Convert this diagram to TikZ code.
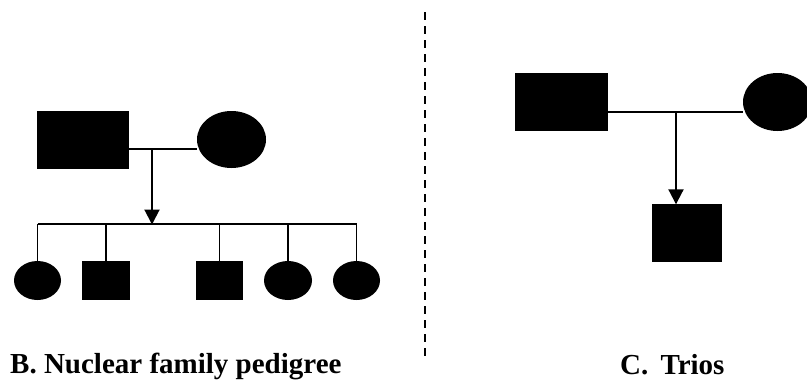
\documentclass[tikz,border=0pt]{standalone}
\usepackage{fontspec}
\setmainfont{Liberation Serif}
\usetikzlibrary{shapes.geometric,arrows.meta}

\tikzset{
  male/.style={rectangle, fill=black, draw=none, inner sep=0pt},
  female/.style={ellipse, fill=black, draw=none, inner sep=0pt},
  link/.style={line width=1.6pt},
  descent/.style={line width=2pt, -{Triangle[length=15pt,width=15pt]}, shorten >=-0.5pt},
  divider/.style={line width=1.6pt, dash pattern=on 7.5pt off 6.5pt},
  caption/.style={inner sep=0pt, font=\bfseries\fontsize{29pt}{32pt}\selectfont}
}

\begin{document}
\begin{tikzpicture}[x=1pt,y=-1pt]
  \useasboundingbox (0,0) rectangle (807,380);

  % --- nuclear family ---
  \node[male, minimum width=92pt, minimum height=58pt] (f1) at (83,140) {};
  \node[female, minimum width=69pt, minimum height=57pt] (m1) at (231.5,139.5) {};
  \coordinate (u1) at (152,149);
  \coordinate (s1) at (152,224);

  \node[female, minimum width=47pt, minimum height=39pt] (c1) at (37.5,280.5) {};
  \node[male,   minimum width=48pt, minimum height=39pt] (c2) at (106,280.5) {};
  \node[male,   minimum width=47pt, minimum height=39pt] (c3) at (219.5,280.5) {};
  \node[female, minimum width=48pt, minimum height=39pt] (c4) at (288,280.5) {};
  \node[female, minimum width=47pt, minimum height=39pt] (c5) at (356.5,280.5) {};

  \draw[link] (f1.east |- u1) -- (m1.west |- u1);
  \draw[descent] (u1) -- (s1);
  \draw[link] (c1 |- s1) -- (c5 |- s1);
  \foreach \c in {c1,c2,c3,c4,c5}
    \draw[link] (\c |- s1) -- (\c.north);

  % --- separator ---
  \coordinate (d1) at (425,12);
  \coordinate (d2) at (425,357);
  \draw[divider] (d1) -- (d2);

  % --- trio ---
  \node[male, minimum width=93pt, minimum height=58pt] (f2) at (561.5,102) {};
  \node[female, minimum width=69pt, minimum height=58pt] (m2) at (777.5,102) {};
  \node[male, minimum width=70pt, minimum height=58pt] (k2) at (687,233) {};
  \coordinate (u2) at (676,112);

  \draw[link] (f2.east |- u2) -- (m2.west |- u2);
  \draw[descent] (u2) -- (u2 |- k2.north);

  % --- captions ---
  \node[caption, anchor=base west] (capB) at (10,373) {B. Nuclear family pedigree};
  \node[caption, anchor=base west] (capC) at (620,374) {C.\hspace{0.42em}Trios};
\end{tikzpicture}
\end{document}
